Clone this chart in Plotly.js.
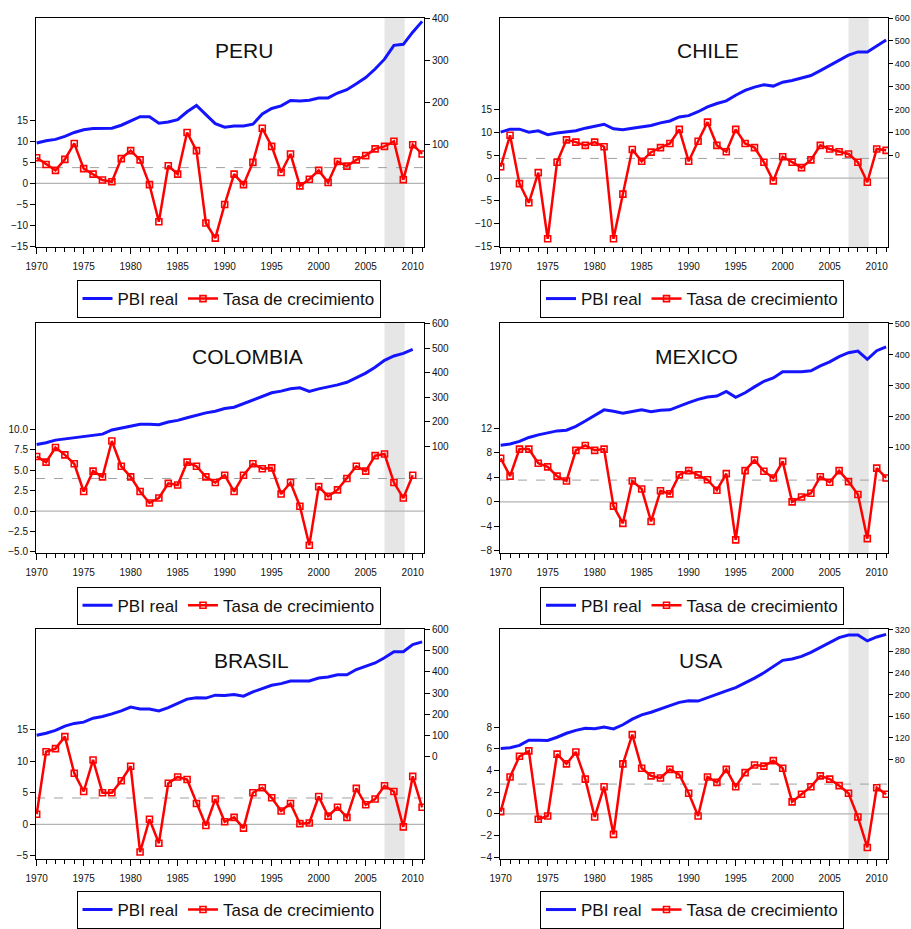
<!DOCTYPE html>
<html><head><meta charset="utf-8">
<script src="https://cdn.plot.ly/plotly-3.0.1.min.js"></script>
<style>html,body{margin:0;padding:0;background:#fff}#chart{width:911px;height:929px}</style>
</head><body><div id="chart"></div>
<script>
// ---------- DATA ----------
const years = [1970,1971,1972,1973,1974,1975,1976,1977,1978,1979,1980,1981,1982,1983,1984,1985,1986,1987,1988,1989,1990,1991,1992,1993,1994,1995,1996,1997,1998,1999,2000,2001,2002,2003,2004,2005,2006,2007,2008,2009,2010,2011];
const countries = ["PERU","CHILE","COLOMBIA","MEXICO","BRASIL","USA"];
const seriesNames = ["PBI real","Tasa de crecimiento"];

const peruGrowth = [6.1,4.5,3.1,5.7,9.5,3.5,2.2,0.8,0.4,5.9, 7.8,5.6,-0.3,-9.1,4.2,2.2,12.1,7.8,-9.4,-13.0, -5.0,2.2,-0.3,5.0,13.1,8.8,2.6,7.0,-0.6,1.0, 3.1,0.2,5.2,4.1,5.6,6.6,8.2,8.8,10.0,0.9, 9.2,7.0];
const peruPBI = [103.9,109.4,112.5,119.6,129.0,135.3,138.4,139.2,139.2,146.2, 157.2,166.6,166.6,150.9,154.0,159.5,178.3,193.2,171.3,150.1, 141.5,144.6,144.6,148.6,172.9,186.2,192.4,205.0,204.2,205.7, 211.2,211.2,222.9,230.8,244.9,259.8,280.1,303.6,336.6,338.9, 367.9,393.7];

const chileGrowth = [2.5,9.4,-1.2,-5.4,1.2,-13.3,3.5,8.4,7.9,7.2, 7.9,6.9,-13.3,-3.5,6.3,3.7,5.7,6.7,7.6,10.7, 3.7,8.1,12.3,7.2,5.8,10.7,7.6,6.7,3.5,-0.6, 4.7,3.5,2.3,4.0,7.2,6.4,5.8,5.3,3.5,-0.9, 6.4,6.1];
const chilePBI = [100.7,113.7,113.7,100.7,106.5,89.2,96.4,100.7,106.5,118.0, 125.2,135.3,115.1,110.8,118.0,125.2,129.5,141.0,149.6,167.0, 172.7,189.9,211.5,225.9,237.4,261.9,283.5,297.8,307.9,302.2, 319.4,326.6,336.7,348.2,369.8,391.4,412.9,437.4,451.8,451.8, 477.7,503.6];

const colombiaGrowth = [6.7,6.0,7.8,6.9,5.8,2.4,4.9,4.2,8.6,5.5, 4.2,2.4,1.0,1.6,3.4,3.2,6.0,5.5,4.2,3.5, 4.4,2.4,4.4,5.8,5.2,5.3,2.1,3.5,0.6,-4.2, 3.0,1.8,2.6,4.0,5.5,4.9,6.8,7.0,3.5,1.6, 4.4];
const colombiaPBI = [108.0,114.7,125.5,130.8,136.2,141.6,145.6,149.9,167.0,175.1, 184.5,189.8,189.8,188.5,199.2,205.9,216.6,227.3,236.7,243.4, 254.2,259.5,274.3,287.7,302.4,318.5,325.2,334.6,338.6,323.9, 334.6,341.3,350.7,361.4,380.2,398.9,423.1,451.2,468.6,479.4, 495.6];

const mexicoGrowth = [7.1,4.2,8.6,8.6,6.3,5.7,4.2,3.4,8.4,9.2, 8.4,8.6,-0.7,-3.5,3.4,2.1,-3.2,1.8,1.3,4.4, 5.1,4.4,3.6,1.9,4.6,-6.2,5.1,6.8,5.0,3.9, 6.6,0.0,0.8,1.4,4.1,3.2,5.1,3.3,1.2,-6.0, 5.5,3.9];
const mexicoPBI = [106.4,110.6,119.1,131.9,140.4,145.7,153.2,155.3,168.1,185.1, 204.3,221.3,217.0,210.6,216.0,221.3,214.9,220.2,221.3,234.0, 244.7,255.3,262.8,266.0,280.9,261.7,276.6,295.7,313.8,324.5, 344.7,344.7,344.7,347.9,363.8,376.6,393.6,406.4,411.7,385.1, 412.8,425.5];

const brasilGrowth = [1.6,11.5,12.0,13.9,8.1,5.2,10.2,5.0,5.0,6.9, 9.2,-4.4,0.8,-3.0,6.5,7.5,7.1,3.3,-0.2,4.0, 0.4,1.1,-0.6,5.0,5.8,4.2,2.1,3.3,0.1,0.2, 4.4,1.3,2.7,1.1,5.7,3.1,4.0,6.1,5.2,-0.4, 7.6,2.7];
const brasilPBI = [102.1,111.3,125.3,145.4,157.7,163.9,182.5,190.2,202.6,216.5, 235.0,225.8,225.8,216.5,231.9,253.6,272.2,278.3,276.8,290.7, 289.2,293.8,286.1,306.2,320.1,337.1,344.8,357.2,357.2,357.2, 371.1,375.8,386.6,386.6,411.3,425.2,442.2,467.0,494.8,494.8, 528.8,541.2];

const usaGrowth = [0.2,3.4,5.3,5.8,-0.5,-0.2,5.5,4.6,5.7,3.2, -0.3,2.5,-1.9,4.6,7.3,4.2,3.5,3.3,4.1,3.6, 1.9,-0.2,3.4,2.9,4.1,2.5,3.8,4.5,4.4,4.9, 4.2,1.1,1.8,2.5,3.5,3.2,2.6,1.9,-0.3,-3.1, 2.4,1.8];
const usaPBI = [100.6,101.8,106.1,115.8,115.8,115.2,121.2,128.5,133.9,137.6, 137.0,140.0,136.4,144.2,154.5,162.4,167.3,172.7,179.4,185.5, 188.5,187.9,194.5,200.0,206.7,212.7,221.2,230.3,240.0,251.5, 263.0,265.5,270.3,277.6,286.7,297.0,304.8,309.7,309.7,298.8, 306.1,310.9];

const meanGrowth = [3.75,4.33,4.0,3.55,4.17,2.74];
const recession = [2007,2009.15];

const leftTicks = [[-15,-10,-5,0,5,10,15],[-15,-10,-5,0,5,10,15],[-5,-2.5,0,2.5,5,7.5,10],[-8,-4,0,4,8,12],[-5,0,5,10,15],[-4,-2,0,2,4,6,8]];
const rightTicks = [[100,200,300,400],[0,100,200,300,400,500,600],[100,200,300,400,500,600],[100,200,300,400,500],[0,100,200,300,400,500,600],[80,120,160,200,240,280,320]];

// ---------- LAYOUT ----------
const W=911,H=929;
const FONT='Arial, "Liberation Sans", sans-serif';
const growth=[peruGrowth,chileGrowth,colombiaGrowth,mexicoGrowth,brasilGrowth,usaGrowth];
const pbi=[peruPBI,chilePBI,colombiaPBI,mexicoPBI,brasilPBI,usaPBI];
const colX=[[36,424],[500,888]];
const rowY=[[18.3,250.7],[327.7,561],[637.7,871]];
const leftRange=[[-15.16,39.3],[-15.15,35.13],[-5.16,23.06],[-8.36,29.14],[-5.47,30.99],[-4.15,17.06]];
const rightRange=[[-144.4,401.6],[-403,600],[-335.5,602.7],[-242.6,502.1],[-479.2,603],[-103,321.2]];
const titlePos=[[243.5,51.7],[708,51.7],[247,361.7],[696.5,361.7],[251,670],[700,670]];
const legendPos=[[228.5,284],[692,284],[228.5,595],[692,595],[228.5,904],[692,904]];

const data=[]; const layout={width:W,height:H,margin:{l:0,r:0,t:0,b:0},paper_bgcolor:'#fff',plot_bgcolor:'rgba(0,0,0,0)',font:{family:FONT,size:10,color:'#111'},shapes:[],annotations:[]};

for(let i=0;i<6;i++){
  const k=i+1;
  const xid= k===1?'x':'x'+k;
  const yl=2*k-1, yr=2*k;
  const ylid= yl===1?'y':'y'+yl, yrid='y'+yr;
  const lg= k===1?'legend':'legend'+k;
  const col=i%2, row=Math.floor(i/2);
  const n=growth[i].length;
  const xs=years.slice(0,n);
  data.push({x:xs,y:pbi[i],xaxis:xid,yaxis:yrid,mode:'lines',name:seriesNames[0],legend:lg,
    line:{color:'#1414ff',width:3}});
  data.push({x:xs,y:growth[i],xaxis:xid,yaxis:ylid,mode:'lines+markers',name:seriesNames[1],legend:lg,
    line:{color:'#ff0000',width:2.5},marker:{symbol:'square-open',size:6,color:'#ff0000',line:{width:1.6,color:'#ff0000'}}});
  const xdom=[colX[col][0]/W,colX[col][1]/W];
  const ydom=[1-rowY[row][1]/H,1-rowY[row][0]/H];
  layout[k===1?'xaxis':'xaxis'+k]={domain:xdom,anchor:ylid,range:[1969.93,2011.2],tickmode:'linear',tick0:1970,dtick:5,
    ticks:'outside',ticklen:6,tickcolor:'#000',showline:true,mirror:true,linecolor:'#000',linewidth:1,showgrid:false,zeroline:false,
    ticklabelstandoff:4,
    minor:{dtick:1,tick0:1970,ticks:'outside',ticklen:4,tickcolor:'#000'},tickfont:{size:10,family:FONT,color:'#111'}};
  layout[yl===1?'yaxis':'yaxis'+yl]={domain:ydom,anchor:xid,range:leftRange[i],tickmode:'array',tickvals:leftTicks[i],
    tickformat: i===2?'.1f':'',ticks:'outside',ticklen:5,tickcolor:'#000',showline:true,linecolor:'#000',linewidth:1,showgrid:false,zeroline:false,
    tickfont:{size:10,family:FONT,color:'#111'}};
  layout['yaxis'+yr]={overlaying:ylid,side:'right',anchor:xid,range:rightRange[i],tickmode:'array',tickvals:rightTicks[i],
    ticks:'outside',ticklen: col===1?4:5,tickcolor:'#000',showline:true,linecolor:'#000',linewidth:1,showgrid:false,zeroline:false,
    tickfont:{size: col===1?9:10,family:FONT,color:'#111'}};
  layout.shapes.push({type:'rect',xref:xid,yref:ylid+' domain',x0:recession[0],x1:recession[1],y0:0,y1:1,fillcolor:'#e6e6e6',line:{width:0},layer:'below'});
  layout.shapes.push({type:'line',xref:xid+' domain',yref:ylid,x0:0,x1:1,y0:0,y1:0,line:{color:'#b4b4b4',width:1.2},layer:'below'});
  layout.shapes.push({type:'line',xref:xid+' domain',yref:ylid,x0:0,x1:1,y0:meanGrowth[i],y1:meanGrowth[i],line:{color:'#a0a0a0',width:1,dash:'dash'},layer:'below'});
  layout.annotations.push({text:countries[i],xref:'paper',yref:'paper',x:titlePos[i][0]/W,y:1-titlePos[i][1]/H,xanchor:'center',yanchor:'middle',showarrow:false,font:{size:21,family:FONT,color:'#111'}});
  layout[lg]={x:legendPos[i][0]/W,xanchor:'center',y:1-legendPos[i][1]/H,yanchor:'top',orientation:'h',bordercolor:'#000',borderwidth:1,bgcolor:'#fff',
    font:{size:17,family:FONT,color:'#111'},itemwidth:30,tracegroupgap:0};
}
Plotly.newPlot('chart',data,layout,{staticPlot:true});
</script></body></html>
